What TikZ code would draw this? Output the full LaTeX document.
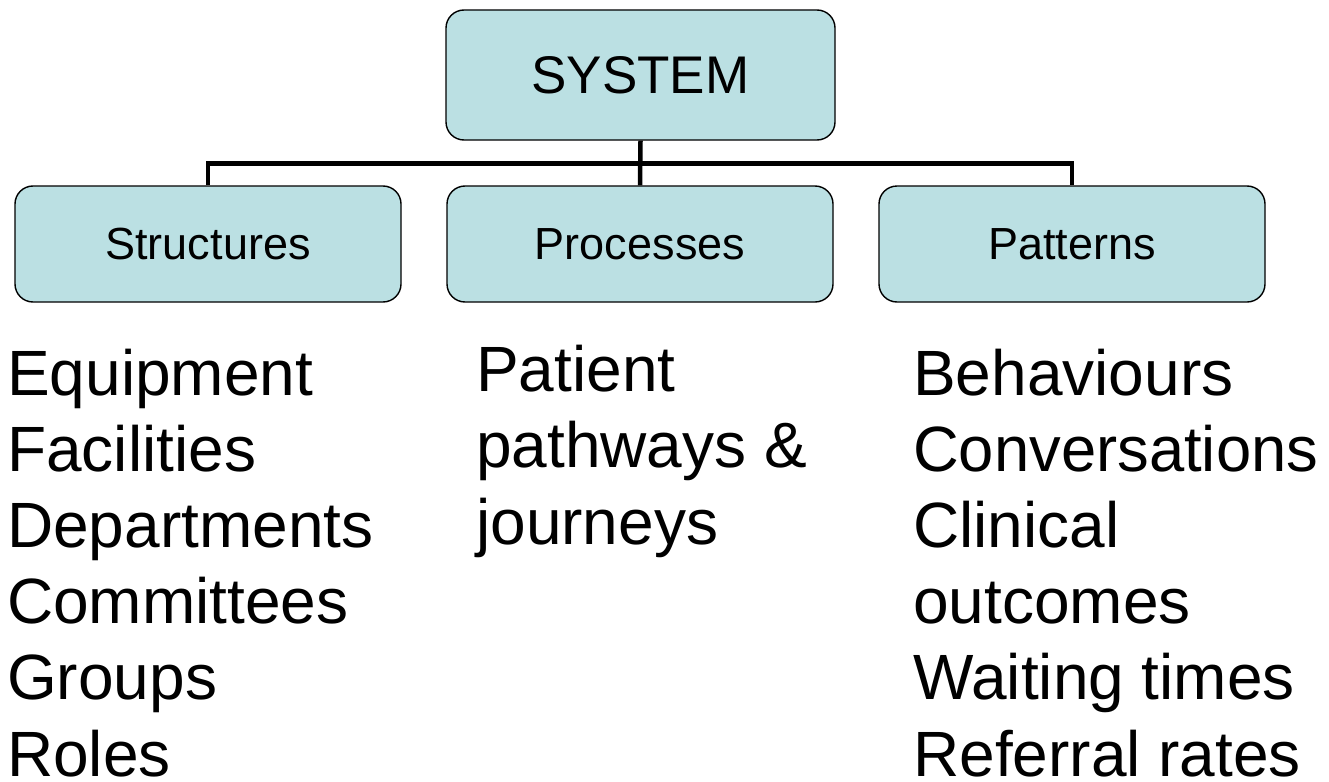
\documentclass[tikz,border=0pt]{standalone}
\usepackage{fontspec}
\usepackage{graphicx}
\setmainfont{Liberation Sans}
\definecolor{boxfill}{HTML}{BBE0E3}
\begin{document}
\begin{tikzpicture}[x=1pt,y=-1pt,
  unit/.style={draw=black, line width=1.4pt, fill=boxfill, rounded corners=18pt,
    inner sep=0pt, align=center},
  topunit/.style={unit, minimum width=389pt, minimum height=130pt,
    font=\fontsize{53}{60}\selectfont},
  subunit/.style={unit, minimum width=386pt, minimum height=116pt,
    font=\fontsize{45}{52}\selectfont},
  conn/.style={draw=black, line width=4.5pt},
  % multi-line nodes sit on the baseline of their last line
  itemlist/.style={anchor=base west, inner sep=0pt, align=left,
    font=\fontsize{64}{76.2}\selectfont}]
  \useasboundingbox (0,0) rectangle (1329,781);

  % hierarchy boxes
  \node[topunit] (sys) at (640.5,75) {SYSTEM};
  \node[subunit] (struct) at (208,244) {Structures};
  \node[subunit] (proc) at (640,244) {Processes};
  \node[subunit] (pat) at (1072,244) {Patterns};

  % connectors
  \coordinate (bar) at (640,163.5);
  \draw[conn] (sys.south) -- (proc.north);
  \draw[conn] (struct.north) |- (bar) -| (pat.north);

  % item lists under each box
  \node[itemlist] (structitems) at (7,776)
    {Equipment\\Facilities\\Departments\\Committees\\Groups\\Roles};
  \node[itemlist] (procitems) at (476,544)
    {Patient\\pathways \&\\journeys};
  \node[itemlist] (patitems) at (913,776)
    {Behaviours\\\scalebox{0.99}[1]{Conversations}\\Clinical\\outcomes\\Waiting times\\Referral rates};
\end{tikzpicture}
\end{document}
